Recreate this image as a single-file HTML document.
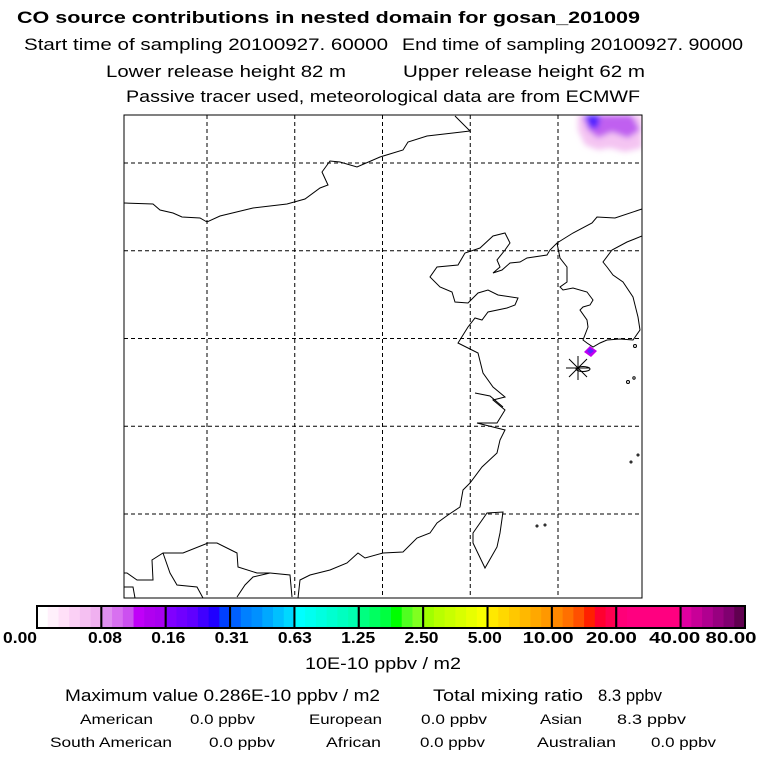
<!DOCTYPE html>
<html><head><meta charset="utf-8"><style>
html,body{margin:0;padding:0;background:#fff;}
svg{display:block;font-family:"Liberation Sans",Arial,sans-serif;}
</style></head><body>
<svg id="chart" width="768" height="768" viewBox="0 0 768 768" xmlns="http://www.w3.org/2000/svg">
<defs><filter id="blur" x="-50%" y="-50%" width="200%" height="200%"><feGaussianBlur stdDeviation="3"/></filter>
<clipPath id="mapclip"><rect x="124" y="115" width="518" height="483"/></clipPath></defs>
<g font-size="17" fill="#000">
<text x="17" y="23" font-weight="bold" textLength="623" lengthAdjust="spacingAndGlyphs">CO  source contributions in nested domain for gosan_201009</text>
<text x="24" y="50" textLength="364" lengthAdjust="spacingAndGlyphs">Start time of sampling 20100927. 60000</text>
<text x="402" y="50" textLength="341" lengthAdjust="spacingAndGlyphs">End time of sampling 20100927. 90000</text>
<text x="106" y="77" textLength="240" lengthAdjust="spacingAndGlyphs">Lower release height   82 m</text>
<text x="403" y="77" textLength="242" lengthAdjust="spacingAndGlyphs">Upper release height   62 m</text>
<text x="126" y="102" textLength="514" lengthAdjust="spacingAndGlyphs">Passive tracer used, meteorological data are from ECMWF</text>
</g>
<g id="map" clip-path="url(#mapclip)">
<g filter="url(#blur)">
<polygon points="578,115 642,115 642,148 625,152 610,148 598,150 585,145 578,130" fill="#f4c4f2"/>
<polygon points="582,115 632,115 640,130 628,138 612,132 598,138 588,130" fill="#c060f0"/>
<polygon points="585,115 600,115 598,128 590,128" fill="#5020ff"/>
</g>
<g>
<polygon points="584,352 590,346 597,351 591,357" fill="#c000f0"/>
<polygon points="587,351 590,348 594,351 590,354" fill="#6020ff"/>
</g>
<g id="grid" stroke="#000" stroke-width="1" stroke-dasharray="4,3"></g>
<g fill="none" stroke="#000" stroke-width="1">
<polyline points="124,203 153,204 160,210 173,213 182,217 200,218 207,222 220,216 253,208 287,204 305,199 320,188 328,185 322,172 330,161 340,162 357,167 380,157 403,150 408,142 427,136 453,133 470,131 455,116"/>
<polyline points="642,209 615,218 597,217 592,223 573,233 557,243 550,250 547,255 527,258 520,262 510,263 502,270 493,273 500,267 497,260 505,250 510,243 505,233 493,236 480,248 465,253 458,265 437,267 430,277 440,287 452,292 455,302 468,303 478,293 488,290 498,295 518,298 515,305 507,308 488,312 482,320 475,318 468,327 458,343 478,353 483,373 493,387 505,397 493,400 505,410 497,423 477,423 505,430 500,440 497,453 482,467 470,483 463,490 460,507 448,515 437,523 430,533 417,538 403,552 383,553 365,558 358,553 347,563 330,570 310,575 300,580 298,598"/>
<polyline points="475,393 490,396 503,407"/>
<polyline points="642,236 627,242 612,250 603,262 607,267 613,275 623,282 633,297 638,317 640,330 633,340 620,339 607,340 600,343 593,347 587,343 583,340 588,327 587,320 580,310 583,307 590,305 593,300 587,292 573,288 563,290 560,287 567,282 567,267 560,258 557,243"/>
<polygon points="487,513 503,512 500,533 497,547 485,568 473,543 473,533"/>
<ellipse cx="583" cy="369" rx="7" ry="2.5"/>
<circle cx="635" cy="346" r="1.5"/><circle cx="628" cy="382" r="1.5"/><circle cx="634" cy="378" r="1.2"/>
<circle cx="537" cy="526" r="1"/><circle cx="545" cy="525" r="1"/><circle cx="631" cy="462" r="1"/><circle cx="638" cy="455" r="1"/>
<polyline points="124,573 127,573 137,580 153,580 152,560 163,553 183,553 208,543 217,543 237,553 238,567 257,573 270,573 290,575 292,597"/>
<polyline points="163,553 170,573 177,585 197,587 203,598"/>
<polyline points="237,597 245,585 253,577 270,573"/>
<polyline points="124,587 133,587 135,598"/>
</g>
<g stroke="#000" stroke-width="1">
<line x1="566" y1="368" x2="590" y2="368"/><line x1="578" y1="356" x2="578" y2="380"/>
<line x1="569" y1="359" x2="587" y2="377"/><line x1="569" y1="377" x2="587" y2="359"/>
</g>
</g>
<rect x="124" y="115" width="518" height="483" fill="none" stroke="#000" stroke-width="1"/>
<g id="colorbar"></g>
<g fill="#000">
<text x="305" y="669" font-size="17" textLength="156" lengthAdjust="spacingAndGlyphs">10E-10 ppbv / m2</text>
<text x="65" y="701" font-size="17" textLength="315" lengthAdjust="spacingAndGlyphs">Maximum value  0.286E-10 ppbv / m2</text>
<text x="433" y="701" font-size="17" textLength="150" lengthAdjust="spacingAndGlyphs">Total mixing ratio</text>
<text x="598" y="701" font-size="17" textLength="64" lengthAdjust="spacingAndGlyphs">8.3 ppbv</text>
<g font-size="14">
<text x="80" y="724" textLength="73" lengthAdjust="spacingAndGlyphs">American</text>
<text x="190" y="724" textLength="65" lengthAdjust="spacingAndGlyphs">0.0 ppbv</text>
<text x="309" y="724" textLength="73" lengthAdjust="spacingAndGlyphs">European</text>
<text x="421" y="724" textLength="66" lengthAdjust="spacingAndGlyphs">0.0 ppbv</text>
<text x="540" y="724" textLength="42" lengthAdjust="spacingAndGlyphs">Asian</text>
<text x="617" y="724" textLength="69" lengthAdjust="spacingAndGlyphs">8.3 ppbv</text>
<text x="50" y="747" textLength="122" lengthAdjust="spacingAndGlyphs">South American</text>
<text x="209" y="747" textLength="66" lengthAdjust="spacingAndGlyphs">0.0 ppbv</text>
<text x="326" y="747" textLength="55" lengthAdjust="spacingAndGlyphs">African</text>
<text x="420" y="747" textLength="65" lengthAdjust="spacingAndGlyphs">0.0 ppbv</text>
<text x="537" y="747" textLength="79" lengthAdjust="spacingAndGlyphs">Australian</text>
<text x="651" y="747" textLength="65" lengthAdjust="spacingAndGlyphs">0.0 ppbv</text>
</g>
</g>
</svg>
<script>
const NS = "http://www.w3.org/2000/svg";
const gridLons = [0, 1, 2, 3, 4];
const gridLats = [0, 1, 2, 3, 4];
const colorbarLabels = ["0.00","0.08","0.16","0.31","0.63","1.25","2.50","5.00","10.00","20.00","40.00","80.00"];
const colorbarShades = [
 ["#ffffff","#fff0fb","#ffe0f8","#fbd0f5","#f5c0f2","#f0b0f0"],
 ["#e090f0","#d870f0","#cc50f0","#c000f8","#b000f0","#a800f0"],
 ["#8000ff","#7000ff","#6000ff","#4000ff","#2000ff","#0040ff"],
 ["#0060ff","#0080ff","#0090ff","#00a8ff","#00c0ff","#00d8ff"],
 ["#00ffff","#00fff0","#00ffe0","#00ffd0","#00ffc0","#00ffb0"],
 ["#00ff80","#00ff60","#00ff40","#00ff00","#50ff20","#80ff20"],
 ["#a0ff00","#b8ff00","#c8ff00","#d8ff00","#e8ff00","#f8ff00"],
 ["#ffe800","#ffd800","#ffc800","#ffb800","#ffa800","#ff9800"],
 ["#ff8800","#ff7000","#ff5000","#ff2000","#ff0030","#ff0050"],
 ["#ff0078","#ff0080","#ff0080","#ff0080","#ff0080","#ff0080"],
 ["#e000a0","#c80098","#b00090","#980080","#800070","#600050"]
];
// grid
const grid = document.getElementById('grid');
const gx = i => 207 + i * 87.75, gy = i => 163 + i * 87.75;
gridLons.forEach(i => {
  const l = document.createElementNS(NS, 'line');
  l.setAttribute('x1', gx(i)); l.setAttribute('x2', gx(i)); l.setAttribute('y1', 115); l.setAttribute('y2', 598);
  
  
  grid.appendChild(l);
});
gridLats.forEach(i => {
  const l = document.createElementNS(NS, 'line');
  l.setAttribute('y1', gy(i)); l.setAttribute('y2', gy(i)); l.setAttribute('x1', 124); l.setAttribute('x2', 642);
  
  
  grid.appendChild(l);
});
// colorbar
const cb = document.getElementById('colorbar');
const x0 = 37, x1 = 745, y0 = 606, h = 22;
const segW = (x1 - x0) / colorbarShades.length;
colorbarShades.forEach((shades, s) => {
  const sw = segW / shades.length;
  shades.forEach((c, k) => {
    const r = document.createElementNS(NS, 'rect');
    r.setAttribute('x', x0 + s * segW + k * sw); r.setAttribute('y', y0);
    r.setAttribute('width', sw + 0.5); r.setAttribute('height', h); r.setAttribute('fill', c);
    
    
    cb.appendChild(r);
  });
  const b = document.createElementNS(NS, 'rect');
  b.setAttribute('x', x0 + s * segW); b.setAttribute('y', y0); b.setAttribute('width', segW); b.setAttribute('height', h);
  b.setAttribute('fill', 'none'); b.setAttribute('stroke', '#000'); b.setAttribute('stroke-width', '2');
  
  
  cb.appendChild(b);
});
const labelCx = i => i === 0 ? 20 : (i === colorbarLabels.length - 1 ? 731 : 105 + (i - 1) * 63.3);
colorbarLabels.forEach((t, i) => {
  const tx = document.createElementNS(NS, 'text');
  tx.setAttribute('x', labelCx(i)); tx.setAttribute('y', 643);
  tx.setAttribute('text-anchor', 'middle'); tx.setAttribute('font-size', '16'); tx.setAttribute('font-weight', 'bold');
  tx.setAttribute('textLength', t.length > 4 ? 51 : 34); tx.setAttribute('lengthAdjust', 'spacingAndGlyphs');
  tx.textContent = t;
  
  
  cb.appendChild(tx);
});
</script>
</body></html>
